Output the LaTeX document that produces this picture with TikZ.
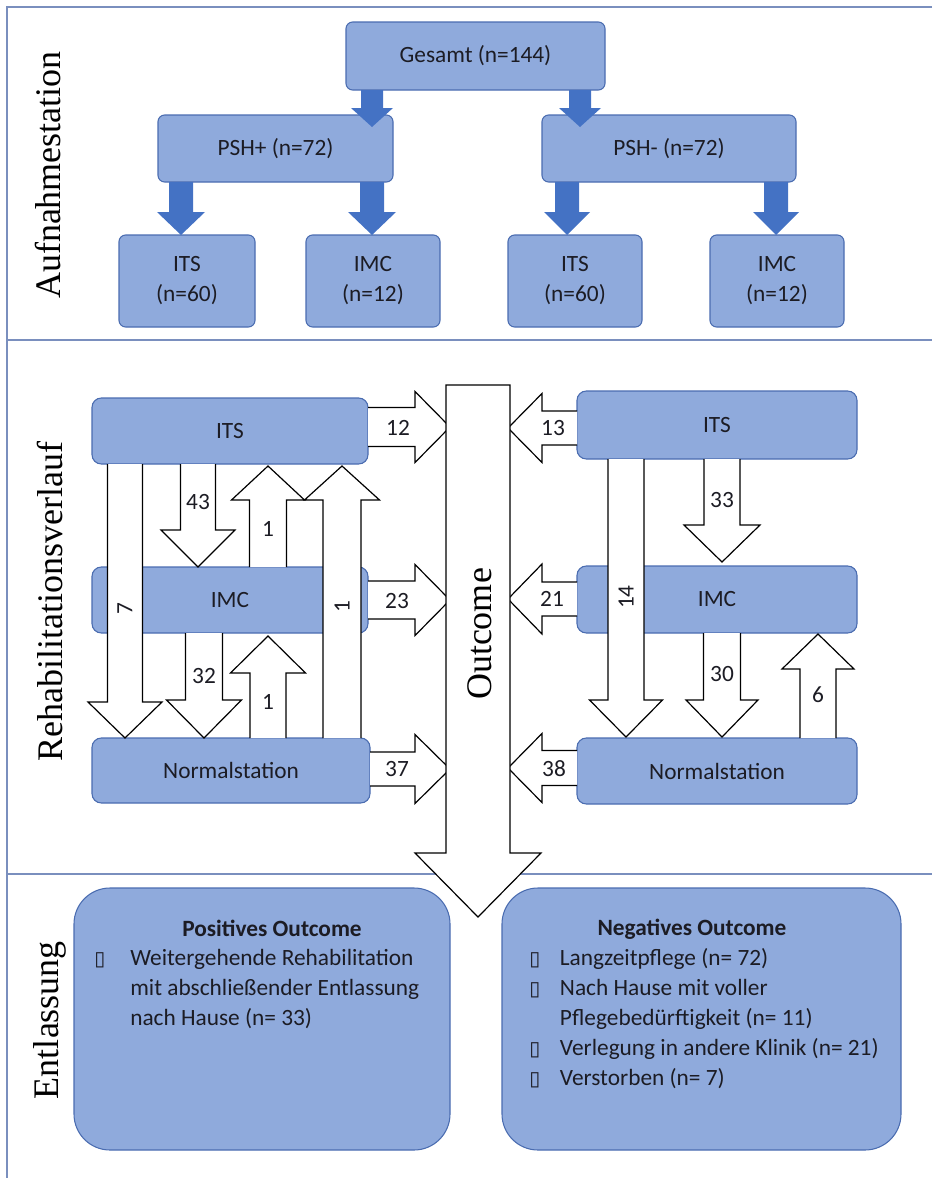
\documentclass[tikz,border=0pt]{standalone}
\usepackage{fontspec}
\setmainfont{Carlito}
\newfontfamily\serifsec{Liberation Serif}
\newfontfamily\symfont{DejaVu Sans}
\definecolor{boxfill}{HTML}{8FAADC}
\definecolor{boxline}{HTML}{4A6CB0}
\definecolor{arrowblue}{HTML}{4472C4}
\definecolor{frameline}{RGB}{122,143,190}
\definecolor{txt}{RGB}{28,28,36}
% vertical block arrow: [style] x, tail y, tip y, head-base y, shaft half width, head half width
\newcommand\varr[7][wa]{\draw[#1] ({#2-#6},#3) -- ({#2-#6},#5) -- ({#2-#7},#5) -- (#2,#4) -- ({#2+#7},#5) -- ({#2+#6},#5) -- ({#2+#6},#3);}
% horizontal block arrow: [style] y, tail x, tip x, head-base x, shaft half width, head half width
\newcommand\harr[7][wa]{\draw[#1] (#3,{#2-#6}) -- (#5,{#2-#6}) -- (#5,{#2-#7}) -- (#4,#2) -- (#5,{#2+#7}) -- (#5,{#2+#6}) -- (#3,{#2+#6});}
% box: [style] x1 y1 x2 y2 name text
\newcommand\bx[7][]{\node[box,minimum width={(#4-#2)*0.75pt},minimum height={(#5-#3)*0.75pt},#1] (#6) at ({(#2+#4)/2},{(#3+#5)/2}) {#7};}
\newcommand\blt{{\symfont\fontsize{15}{22.5}\selectfont ▯}}
\begin{document}
\begin{tikzpicture}[x=0.75pt,y=-0.75pt,
  box/.style={draw=boxline,fill=boxfill,line width=0.8pt,rounded corners=5pt,inner sep=0pt,align=center,text=txt,font=\fontsize{17.5}{22.5}\selectfont},
  bigbox/.style={rounded corners=27pt},
  wa/.style={draw=black,fill=white,line width=0.9pt,line join=miter},
  ba/.style={fill=arrowblue,draw=none},
  lab/.style={inner sep=0pt,text=txt,font=\fontsize{17.5}{21}\selectfont},
  sec/.style={inner sep=0pt,text=black,font=\serifsec\fontsize{27}{30}\selectfont},
  frame/.style={draw=frameline,line width=1.2pt},
  lst/.style={inner sep=0pt,text=txt,align=left,font=\fontsize{17.5}{22.5}\selectfont}]
\useasboundingbox (0,0) rectangle (932,1178);

% frame
\draw[frame] (932,7) -- (7,7) -- (7,1178);
\draw[frame] (7,340) -- (932,340);
\draw[frame] (7,874) -- (932,874);

% section labels
\node[sec,rotate=90] (s1) at (48,175) {Aufnahmestation};
\node[sec,rotate=90] (s2) at (50,602) {Rehabilitationsverlauf};
\node[sec,rotate=90] (s3) at (50,1020) {Entlassung};

% top section
\bx{346}{22}{605}{90}{gesamt}{Gesamt (n=144)}
\bx{158}{115}{393}{182}{pshp}{PSH+ (n=72)}
\bx{542}{115}{796}{182}{pshm}{PSH- (n=72)}
\bx{119}{235}{255}{327}{itsa}{ITS\\(n=60)}
\bx{306}{235}{440}{327}{imca}{IMC\\(n=12)}
\bx{508}{235}{642}{327}{itsb}{ITS\\(n=60)}
\bx{710}{235}{844}{327}{imcb}{IMC\\(n=12)}
\varr[ba]{372}{90}{127}{108}{11}{21}
\varr[ba]{580}{90}{127}{108}{11}{21}
\varr[ba]{181}{182}{235}{212}{12}{24}
\varr[ba]{372}{182}{235}{212}{12}{24}
\varr[ba]{567}{182}{235}{212}{12}{23}
\varr[ba]{776}{182}{235}{212}{12}{23}

% middle section boxes
\bx[rounded corners=7pt]{92}{398}{368}{464}{itsL}{ITS}
\bx[rounded corners=7pt]{92}{567}{368}{633}{imcL}{IMC}
\bx[rounded corners=7pt]{92}{738}{370}{803}{norL}{Normalstation}
\bx[rounded corners=7pt]{577}{391}{857}{459}{itsR}{ITS}
\bx[rounded corners=7pt]{577}{566}{857}{633}{imcR}{IMC}
\bx[rounded corners=7pt]{577}{738}{857}{804}{norR}{Normalstation}

% left vertical arrows
\varr{125}{464}{738}{702}{17.5}{37}
\varr{198}{464}{567}{530}{17.5}{37}
\varr{268}{567}{466}{500}{18.5}{36.5}
\varr{342}{738}{466}{500}{19}{37.5}
\varr{204}{633}{738}{700}{18.5}{37.5}
\varr{268}{738}{636}{673}{18}{37.5}
% right vertical arrows
\varr{626}{459}{737}{700}{18}{36.5}
\varr{722}{459}{562}{525}{18}{38}
\varr{722}{633}{737}{700}{18.5}{36}
\varr{818}{738}{634}{669}{18}{36}
% horizontal arrows
\harr{427}{368}{450}{415}{19.5}{35.5}
\harr{600}{368}{450}{415}{19}{35.5}
\harr{769}{370}{450}{415}{17}{34.5}
\harr{428}{577}{508}{542}{17}{34.5}
\harr{599}{577}{508}{542}{17}{35}
\harr{768}{577}{508}{542}{17.5}{34.5}

% outcome arrow
\draw[wa] (446,385) -- (446,853) -- (415,853) -- (478,917) -- (541,853) -- (510,853) -- (510,385) -- cycle;
\node[sec,rotate=90] (outc) at (480,634) {Outcome};

% arrow labels
\node[lab] (l12) at (398,428) {12};
\node[lab] (l23) at (397,601) {23};
\node[lab] (l37) at (397,769) {37};
\node[lab] (l13) at (553,428) {13};
\node[lab] (l21) at (552,599) {21};
\node[lab] (l38) at (554,769) {38};
\node[lab] (l43) at (198,502) {43};
\node[lab] (l1a) at (268,529) {1};
\node[lab,rotate=90] (l7) at (125,609) {7};
\node[lab,rotate=90] (l1b) at (342,607) {1};
\node[lab] (l32) at (204,676) {32};
\node[lab] (l1c) at (268,702) {1};
\node[lab] (l33) at (722,500) {33};
\node[lab,rotate=90] (l14) at (626,597) {14};
\node[lab] (l30) at (722,674) {30};
\node[lab] (l6) at (818,695) {6};

% bottom section
\bx[bigbox]{74}{888}{450}{1150}{pos}{}
\bx[bigbox]{502}{888}{901}{1150}{neg}{}
\node[lab,font=\bfseries\fontsize{17.5}{21}\selectfont] (posT) at (272,928) {Positives Outcome};
\node[lab,font=\bfseries\fontsize{17.5}{21}\selectfont] (negT) at (692,929) {Negatives Outcome};
\node[lst,anchor=base west] (posL) at (94,965) {\begin{tabular}[t]{@{}p{27pt}@{}l@{}}
\blt & Weitergehende Rehabilitation\\
 & mit abschließender Entlassung\\
 & nach Hause (n= 33)
\end{tabular}};
\node[lst,anchor=base west] (negL) at (529,965) {\begin{tabular}[t]{@{}p{23pt}@{}l@{}}
\blt & Langzeitpflege (n= 72)\\
\blt & Nach Hause mit voller\\
 & Pflegebedürftigkeit (n= 11)\\
\blt & Verlegung in andere Klinik (n= 21)\\
\blt & Verstorben (n= 7)
\end{tabular}};
\end{tikzpicture}
\end{document}
